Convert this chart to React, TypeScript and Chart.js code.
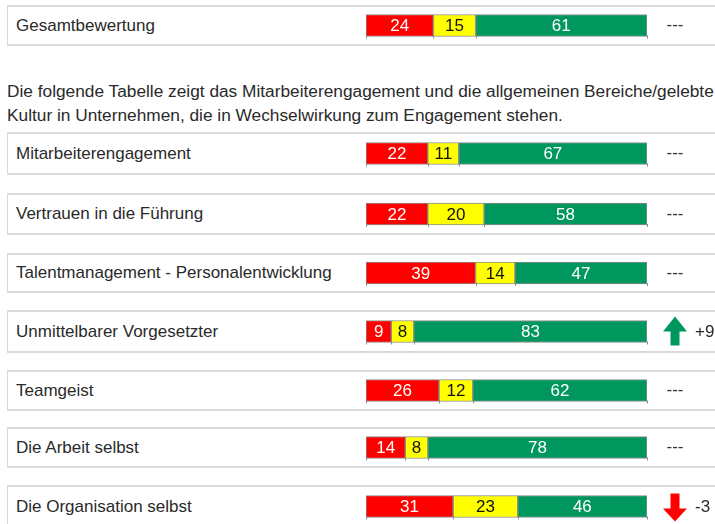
import React, { useEffect, useRef } from 'react';
import { Chart, registerables } from 'chart.js';

Chart.register(...registerables);

// ---------- data ----------
const categories = [
  'Gesamtbewertung',
  'Mitarbeiterengagement',
  'Vertrauen in die Führung',
  'Talentmanagement - Personalentwicklung',
  'Unmittelbarer Vorgesetzter',
  'Teamgeist',
  'Die Arbeit selbst',
  'Die Organisation selbst',
];
const negative = [24, 22, 22, 39, 9, 26, 14, 31];
const neutral = [15, 11, 20, 14, 8, 12, 8, 23];
const positive = [61, 67, 58, 47, 83, 62, 78, 46];
const trend: (number | null)[] = [null, null, null, null, 9, null, null, -3];

const introLines = [
  'Die folgende Tabelle zeigt das Mitarbeiterengagement und die allgemeinen Bereiche/gelebte',
  'Kultur in Unternehmen, die in Wechselwirkung zum Engagement stehen.',
];

// ---------- layout / style ----------
const FONT = '"Liberation Sans", Arial, Helvetica, sans-serif';
const RED = '#ff0000';
const YELLOW = '#ffff00';
const GREEN = '#00975f';
const BAR_BORDER = '#8c8c8c';
const BOX_LINE = '#d9d9d9';
const TEXT = '#2a2a2a';

const rowBoxes = [
  { top: 5, h: 41 },
  { top: 132, h: 43 },
  { top: 193, h: 42 },
  { top: 253, h: 40 },
  { top: 310, h: 43 },
  { top: 370, h: 41 },
  { top: 427, h: 41 },
  { top: 485, h: 43 },
];

const rowPlugin = {
  id: 'rowDeco',
  afterDatasetsDraw(chart: any) {
    const ctx: CanvasRenderingContext2D = chart.ctx;
    const rowIdx: number = chart.options.plugins.rowDeco.rowIndex;
    ctx.save();
    let cy = 0;
    let bottom = 0;
    const edges: number[] = [];
    chart.data.datasets.forEach((ds: any, di: number) => {
      const meta = chart.getDatasetMeta(di);
      const el: any = meta.data[0];
      if (!el) return;
      const p = el.getProps(['x', 'base', 'y', 'height'], true);
      const left = Math.min(p.x, p.base);
      const right = Math.max(p.x, p.base);
      cy = p.y;
      bottom = p.y + p.height / 2;
      edges.push(left, right);
      const v = ds.data[0];
      ctx.font = `17px ${FONT}`;
      ctx.textAlign = 'center';
      ctx.textBaseline = 'middle';
      ctx.fillStyle = ds.labelColor;
      ctx.fillText(String(v), (left + right) / 2, p.y + 1);
    });
    // small ticks below bar at segment boundaries
    ctx.strokeStyle = BAR_BORDER;
    ctx.lineWidth = 1;
    Array.from(new Set(edges.map((e) => Math.round(e)))).forEach((x) => {
      ctx.beginPath();
      ctx.moveTo(x + 0.5, bottom - 1);
      ctx.lineTo(x + 0.5, bottom + 2);
      ctx.stroke();
    });
    // trend indicator
    const t = trend[rowIdx];
    const cx = chart.chartArea.right + 28;
    ctx.font = `17px ${FONT}`;
    ctx.textBaseline = 'middle';
    if (t === null || t === undefined || t === 0) {
      ctx.fillStyle = '#333';
      ctx.textAlign = 'center';
      ctx.fillText('---', cx, cy);
    } else {
      const up = t > 0;
      ctx.fillStyle = up ? GREEN : RED;
      ctx.beginPath();
      if (up) {
        ctx.moveTo(cx, cy - 15);
        ctx.lineTo(cx + 12, cy);
        ctx.lineTo(cx + 4.5, cy);
        ctx.lineTo(cx + 4.5, cy + 14);
        ctx.lineTo(cx - 4.5, cy + 14);
        ctx.lineTo(cx - 4.5, cy);
        ctx.lineTo(cx - 12, cy);
      } else {
        ctx.moveTo(cx, cy + 15);
        ctx.lineTo(cx + 12, cy + 2);
        ctx.lineTo(cx + 4.5, cy + 2);
        ctx.lineTo(cx + 4.5, cy - 13);
        ctx.lineTo(cx - 4.5, cy - 13);
        ctx.lineTo(cx - 4.5, cy + 2);
        ctx.lineTo(cx - 12, cy + 2);
      }
      ctx.closePath();
      ctx.fill();
      ctx.fillStyle = TEXT;
      ctx.textAlign = 'left';
      ctx.fillText((up ? '+' : '-') + Math.abs(t), cx + 20, cy + 1);
    }
    ctx.restore();
  },
};

function BarRow({ index }: { index: number }) {
  const ref = useRef<HTMLCanvasElement>(null);
  const box = rowBoxes[index];
  useEffect(() => {
    const mk = (label: string, v: number, bg: string, lc: string) => ({
      label,
      data: [v],
      backgroundColor: bg,
      borderColor: BAR_BORDER,
      borderWidth: 1,
      borderSkipped: false,
      barThickness: 22,
      labelColor: lc,
    });
    const chart = new Chart(ref.current!, {
      type: 'bar',
      data: {
        labels: [categories[index]],
        datasets: [
          mk('negativ', negative[index], RED, '#ffffff'),
          mk('neutral', neutral[index], YELLOW, '#111111'),
          mk('positiv', positive[index], GREEN, '#ffffff'),
        ] as any,
      },
      options: {
        indexAxis: 'y',
        responsive: false,
        animation: false,
        devicePixelRatio: 1,
        layout: { padding: { left: 6, right: 68, top: 0, bottom: 0 } },
        scales: {
          x: { stacked: true, min: 0, max: 100, display: false },
          y: { stacked: true, display: false },
        },
        plugins: {
          legend: { display: false },
          tooltip: { enabled: false },
          rowDeco: { rowIndex: index },
        } as any,
      },
      plugins: [rowPlugin as any],
    });
    return () => chart.destroy();
  }, [index]);
  return (
    <>
      <div
        style={{
          position: 'absolute',
          left: 7,
          top: box.top,
          width: 720,
          height: box.h,
          boxSizing: 'border-box',
          borderTop: `2px solid ${BOX_LINE}`,
          borderBottom: `2px solid ${BOX_LINE}`,
          borderLeft: `1px solid ${BOX_LINE}`,
        }}
      />
      <div
        style={{
          position: 'absolute',
          left: 16,
          top: box.top,
          height: box.h,
          display: 'flex',
          alignItems: 'center',
          font: `17px ${FONT}`,
          color: TEXT,
          whiteSpace: 'nowrap',
        }}
      >
        {categories[index]}
      </div>
      <canvas
        ref={ref}
        width={355}
        height={box.h}
        style={{ position: 'absolute', left: 360, top: box.top, width: 355, height: box.h, display: 'block' }}
      />
    </>
  );
}

export default function App() {
  return (
    <div
      style={{
        position: 'fixed',
        left: 0,
        top: 0,
        width: 715,
        height: 524,
        overflow: 'hidden',
        background: '#fff',
      }}
    >
      <BarRow index={0} />
      <div
        style={{
          position: 'absolute',
          left: 7,
          top: 79,
          font: `17.3px ${FONT}`,
          lineHeight: '24px',
          color: TEXT,
          whiteSpace: 'nowrap',
        }}
      >
        {introLines.map((l, i) => (
          <div key={i}>{l}</div>
        ))}
      </div>
      {categories.slice(1).map((_, i) => (
        <BarRow key={i + 1} index={i + 1} />
      ))}
    </div>
  );
}
